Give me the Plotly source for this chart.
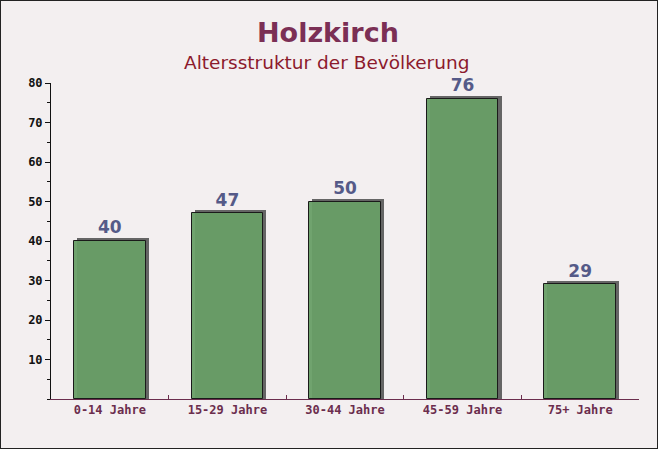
import plotly.graph_objects as go

categories = ["0-14 Jahre", "15-29 Jahre", "30-44 Jahre", "45-59 Jahre", "75+ Jahre"]
values = [40, 47, 50, 76, 29]
y_ticks = [10, 20, 30, 40, 50, 60, 70, 80]

fig = go.Figure()

# shadow (3D effect)
fig.add_trace(go.Bar(
    x=categories, y=[v + 0.75 for v in values],
    width=0.61, offset=-0.305 + 0.026,
    marker=dict(color="rgba(85,85,85,0.9)", line=dict(width=0)),
    hoverinfo="skip", showlegend=False,
))
fig.add_trace(go.Bar(
    x=categories, y=values,
    width=0.61, offset=-0.305,
    marker=dict(color="rgba(104,158,102,0.95)", line=dict(color="#1a1a1a", width=1)),
    showlegend=False,
))
fig.add_trace(go.Scatter(
    x=categories, y=[v + 0.9 for v in values], mode="text",
    text=[str(v) for v in values], textposition="top center",
    textfont=dict(family="DejaVu Sans", size=17, color="#555a88", weight="bold"),
    showlegend=False, hoverinfo="skip", cliponaxis=False,
))

fig.update_layout(
    width=658, height=449,
    margin=dict(l=51, r=19, t=83, b=50),
    paper_bgcolor="#f3eff0", plot_bgcolor="rgba(0,0,0,0)",
    barmode="overlay", bargap=0,
    annotations=[
        dict(text="<b>Holzkirch</b>", xref="paper", yref="paper", x=(328 - 51) / 588, y=1 + (83 - 32) / 316,
             yanchor="middle", xanchor="center", showarrow=False,
             font=dict(family="DejaVu Sans", size=27, color="#7b2f55")),
        dict(text="Altersstruktur der Bevölkerung", xref="paper", yref="paper", x=(326 - 51) / 588,
             y=1 + (83 - 62) / 316, yanchor="middle", xanchor="center", showarrow=False,
             font=dict(family="DejaVu Sans", size=18.5, color="#8c1a2c")),
    ],
    xaxis=dict(
        type="category", range=[-0.5, 4.5],
        showline=True, linecolor="#6b2d4d", linewidth=1,
        ticks="inside", ticklen=4, tickcolor="#6b2d4d", tickson="boundaries",
        tickfont=dict(family="DejaVu Sans Mono", size=12, color="#6b2d4d", weight="bold"),
        showgrid=False, zeroline=False,
    ),
    yaxis=dict(
        range=[0, 80], tickvals=y_ticks, ticktext=[str(t) for t in y_ticks],
        showline=True, linecolor="#111", linewidth=1,
        ticks="outside", ticklen=5, tickcolor="#111",
        minor=dict(dtick=5, ticks="outside", ticklen=3, tickcolor="#111", showgrid=False),
        tickfont=dict(family="DejaVu Sans Mono", size=12, color="#111", weight="bold"),
        showgrid=False, zeroline=False,
    ),
    shapes=[dict(type="rect", xref="paper", yref="paper", x0=-51/588, x1=1+19/588,
                 y0=-50/316, y1=1+83/316, line=dict(color="#222", width=2), fillcolor="rgba(0,0,0,0)")],
)

fig.write_html("out.html", config={"displayModeBar": False},
               post_script="document.body.style.margin='0';document.body.style.overflow='hidden';")
